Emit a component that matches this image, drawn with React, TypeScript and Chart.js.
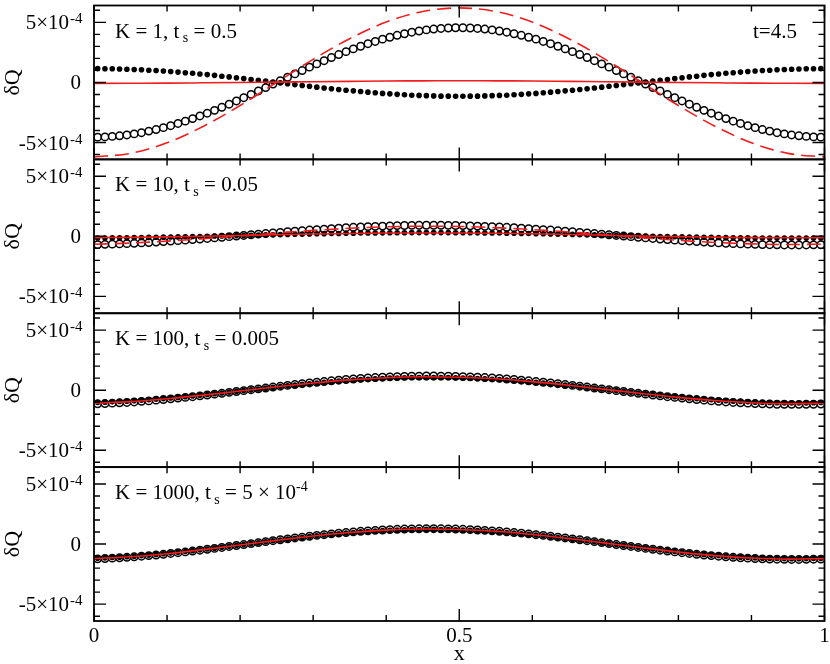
import { useEffect, useRef } from 'react';
import { Chart, registerables } from 'chart.js';

Chart.register(...registerables);

// Cell-centred sample positions of the markers (100 cells on [0,1])
const xCells: number[] = Array.from({ length: 100 }, (_, i) => (i + 0.5) / 100);
// Sample positions of the red reference curves
const xLine = [0, 0.05, 0.1, 0.15, 0.2, 0.25, 0.3, 0.35, 0.4, 0.45, 0.5, 0.55, 0.6, 0.65, 0.7, 0.75, 0.8, 0.85, 0.9, 0.95, 1];

// All values below are in units of 1e-4
// Panel 1: K = 1
const open1 = [
  -4.55, -4.53, -4.49, -4.44, -4.37, -4.28, -4.18, -4.05, -3.92, -3.76, -3.6, -3.41, -3.22, -3.01, -2.79, -2.56, -2.32, -2.07, -1.81, -1.54, -1.27, -0.99, -0.71, -0.43, -0.14,
  0.14, 0.43, 0.71, 0.99, 1.27, 1.54, 1.81, 2.07, 2.32, 2.56, 2.79, 3.01, 3.22, 3.41, 3.6, 3.76, 3.92, 4.05, 4.18, 4.28, 4.37, 4.44, 4.49, 4.53, 4.55,
  4.55, 4.53, 4.49, 4.44, 4.37, 4.28, 4.18, 4.05, 3.92, 3.76, 3.6, 3.41, 3.22, 3.01, 2.79, 2.56, 2.32, 2.07, 1.81, 1.54, 1.27, 0.99, 0.71, 0.43, 0.14,
  -0.14, -0.43, -0.71, -0.99, -1.27, -1.54, -1.81, -2.07, -2.32, -2.56, -2.79, -3.01, -3.22, -3.41, -3.6, -3.76, -3.92, -4.05, -4.18, -4.28, -4.37, -4.44, -4.49, -4.53, -4.55,
];
const filled1 = [
  1.15, 1.14, 1.14, 1.12, 1.1, 1.08, 1.06, 1.02, 0.99, 0.95, 0.91, 0.86, 0.81, 0.76, 0.7, 0.65, 0.59, 0.52, 0.46, 0.39, 0.32, 0.25, 0.18, 0.11, 0.04,
  -0.04, -0.11, -0.18, -0.25, -0.32, -0.39, -0.46, -0.52, -0.59, -0.65, -0.7, -0.76, -0.81, -0.86, -0.91, -0.95, -0.99, -1.02, -1.06, -1.08, -1.1, -1.12, -1.14, -1.14, -1.15,
  -1.15, -1.14, -1.14, -1.12, -1.1, -1.08, -1.06, -1.02, -0.99, -0.95, -0.91, -0.86, -0.81, -0.76, -0.7, -0.65, -0.59, -0.52, -0.46, -0.39, -0.32, -0.25, -0.18, -0.11, -0.04,
  0.04, 0.11, 0.18, 0.25, 0.32, 0.39, 0.46, 0.52, 0.59, 0.65, 0.7, 0.76, 0.81, 0.86, 0.91, 0.95, 0.99, 1.02, 1.06, 1.08, 1.1, 1.12, 1.14, 1.14, 1.15,
];
const dashed1 = [-6.2, -5.9, -5.02, -3.64, -1.92, 0, 1.92, 3.64, 5.02, 5.9, 6.2, 5.9, 5.02, 3.64, 1.92, 0, -1.92, -3.64, -5.02, -5.9, -6.2];
const solid1 = [-0.08, -0.07, -0.06, -0.03, 0, 0.03, 0.06, 0.09, 0.12, 0.13, 0.14, 0.13, 0.12, 0.09, 0.06, 0.03, 0, -0.03, -0.06, -0.07, -0.08];

// Panel 2: K = 10
const open2 = [
  -0.69, -0.67, -0.65, -0.63, -0.61, -0.58, -0.55, -0.52, -0.48, -0.44, -0.4, -0.36, -0.32, -0.27, -0.23, -0.18, -0.13, -0.08, -0.03, 0.02, 0.07,
  0.13, 0.18, 0.23, 0.28, 0.33, 0.38, 0.43, 0.47, 0.52, 0.56, 0.6, 0.64, 0.68, 0.72, 0.75, 0.78, 0.81, 0.83, 0.85, 0.87, 0.89, 0.9, 0.91, 0.92, 0.92,
  0.92, 0.92, 0.91, 0.9, 0.89, 0.87, 0.85, 0.83, 0.81, 0.78, 0.75, 0.72, 0.68, 0.64, 0.6, 0.56, 0.52, 0.47, 0.43, 0.38, 0.33, 0.28, 0.23, 0.18, 0.13,
  0.07, 0.02, -0.03, -0.08, -0.13, -0.18, -0.23, -0.27, -0.32, -0.36, -0.4, -0.44, -0.48, -0.52, -0.55, -0.58, -0.61, -0.63, -0.65, -0.67, -0.69, -0.7, -0.71, -0.72, -0.72,
  -0.72, -0.72, -0.71, -0.7,
];
const filled2 = [
  -0.14, -0.14, -0.13, -0.12, -0.12, -0.11, -0.1, -0.09, -0.08, -0.07, -0.06, -0.05, -0.04, -0.02, -0.01, 0, 0.02, 0.03, 0.04, 0.06, 0.07,
  0.09, 0.1, 0.12, 0.13, 0.14, 0.16, 0.17, 0.18, 0.2, 0.21, 0.22, 0.23, 0.24, 0.25, 0.26, 0.27, 0.28, 0.28, 0.29, 0.3, 0.3, 0.3, 0.31, 0.31, 0.31,
  0.31, 0.31, 0.31, 0.3, 0.3, 0.3, 0.29, 0.28, 0.28, 0.27, 0.26, 0.25, 0.24, 0.23, 0.22, 0.21, 0.2, 0.18, 0.17, 0.16, 0.14, 0.13, 0.12, 0.1, 0.09,
  0.07, 0.06, 0.04, 0.03, 0.02, 0, -0.01, -0.02, -0.04, -0.05, -0.06, -0.07, -0.08, -0.09, -0.1, -0.11, -0.12, -0.12, -0.13, -0.14, -0.14, -0.14, -0.15, -0.15, -0.15,
  -0.15, -0.15, -0.15, -0.14,
];
const dashed2 = [-0.66, -0.56, -0.4, -0.2, 0.03, 0.27, 0.49, 0.67, 0.79, 0.84, 0.82, 0.72, 0.56, 0.36, 0.13, -0.11, -0.33, -0.51, -0.63, -0.68, -0.66];
const solid2 = [-0.11, -0.09, -0.05, 0.01, 0.07, 0.13, 0.19, 0.23, 0.27, 0.28, 0.27, 0.25, 0.21, 0.15, 0.09, 0.03, -0.03, -0.07, -0.11, -0.12, -0.11];

// Panel 3: K = 100
const open3 = [
  -1.13, -1.11, -1.08, -1.05, -1.02, -0.98, -0.93, -0.89, -0.83, -0.78, -0.72, -0.66, -0.6, -0.54, -0.47, -0.4, -0.33, -0.26, -0.18, -0.11, -0.04,
  0.04, 0.11, 0.18, 0.26, 0.33, 0.4, 0.47, 0.54, 0.6, 0.66, 0.72, 0.78, 0.83, 0.89, 0.93, 0.98, 1.02, 1.05, 1.08, 1.11, 1.13, 1.15, 1.17, 1.17, 1.18,
  1.18, 1.17, 1.17, 1.15, 1.13, 1.11, 1.08, 1.05, 1.02, 0.98, 0.93, 0.89, 0.83, 0.78, 0.72, 0.66, 0.6, 0.54, 0.47, 0.4, 0.33, 0.26, 0.18, 0.11, 0.04,
  -0.04, -0.11, -0.18, -0.26, -0.33, -0.4, -0.47, -0.54, -0.6, -0.66, -0.72, -0.78, -0.83, -0.89, -0.93, -0.98, -1.02, -1.05, -1.08, -1.11, -1.13, -1.15, -1.17, -1.17, -1.18,
  -1.18, -1.17, -1.17, -1.15,
];
const filled3 = [
  -1.02, -1.0, -0.97, -0.94, -0.91, -0.88, -0.84, -0.8, -0.75, -0.7, -0.65, -0.6, -0.54, -0.48, -0.42, -0.36, -0.3, -0.23, -0.17, -0.1, -0.03,
  0.03, 0.1, 0.17, 0.23, 0.3, 0.36, 0.42, 0.48, 0.54, 0.6, 0.65, 0.7, 0.75, 0.8, 0.84, 0.88, 0.91, 0.94, 0.97, 1.0, 1.02, 1.03, 1.05, 1.06, 1.06,
  1.06, 1.06, 1.05, 1.03, 1.02, 1.0, 0.97, 0.94, 0.91, 0.88, 0.84, 0.8, 0.75, 0.7, 0.65, 0.6, 0.54, 0.48, 0.42, 0.36, 0.3, 0.23, 0.17, 0.1, 0.03,
  -0.03, -0.1, -0.17, -0.23, -0.3, -0.36, -0.42, -0.48, -0.54, -0.6, -0.65, -0.7, -0.75, -0.8, -0.84, -0.88, -0.91, -0.94, -0.97, -1.0, -1.02, -1.03, -1.05, -1.06, -1.06,
  -1.06, -1.06, -1.05, -1.03,
];
const solid3 = [-1.08, -0.95, -0.71, -0.41, -0.07, 0.28, 0.6, 0.86, 1.04, 1.12, 1.08, 0.95, 0.71, 0.41, 0.07, -0.28, -0.6, -0.86, -1.04, -1.12, -1.08];

// Panel 4: K = 1000
const open4 = [
  -1.23, -1.2, -1.17, -1.14, -1.1, -1.06, -1.01, -0.96, -0.91, -0.85, -0.78, -0.72, -0.65, -0.58, -0.51, -0.43, -0.36, -0.28, -0.2, -0.12, -0.04,
  0.04, 0.12, 0.2, 0.28, 0.36, 0.43, 0.51, 0.58, 0.65, 0.72, 0.78, 0.85, 0.91, 0.96, 1.01, 1.06, 1.1, 1.14, 1.17, 1.2, 1.23, 1.25, 1.26, 1.27, 1.28,
  1.28, 1.27, 1.26, 1.25, 1.23, 1.2, 1.17, 1.14, 1.1, 1.06, 1.01, 0.96, 0.91, 0.85, 0.78, 0.72, 0.65, 0.58, 0.51, 0.43, 0.36, 0.28, 0.2, 0.12, 0.04,
  -0.04, -0.12, -0.2, -0.28, -0.36, -0.43, -0.51, -0.58, -0.65, -0.72, -0.78, -0.85, -0.91, -0.96, -1.01, -1.06, -1.1, -1.14, -1.17, -1.2, -1.23, -1.25, -1.26, -1.27, -1.28,
  -1.28, -1.27, -1.26, -1.25,
];
const filled4 = [
  -1.17, -1.15, -1.12, -1.09, -1.05, -1.01, -0.96, -0.92, -0.86, -0.81, -0.75, -0.69, -0.62, -0.55, -0.48, -0.41, -0.34, -0.27, -0.19, -0.11, -0.04,
  0.04, 0.11, 0.19, 0.27, 0.34, 0.41, 0.48, 0.55, 0.62, 0.69, 0.75, 0.81, 0.86, 0.92, 0.96, 1.01, 1.05, 1.09, 1.12, 1.15, 1.17, 1.19, 1.2, 1.21, 1.22,
  1.22, 1.21, 1.2, 1.19, 1.17, 1.15, 1.12, 1.09, 1.05, 1.01, 0.96, 0.92, 0.86, 0.81, 0.75, 0.69, 0.62, 0.55, 0.48, 0.41, 0.34, 0.27, 0.19, 0.11, 0.04,
  -0.04, -0.11, -0.19, -0.27, -0.34, -0.41, -0.48, -0.55, -0.62, -0.69, -0.75, -0.81, -0.86, -0.92, -0.96, -1.01, -1.05, -1.09, -1.12, -1.15, -1.17, -1.19, -1.2, -1.21, -1.22,
  -1.22, -1.21, -1.2, -1.19,
];
const solid4 = [-1.21, -1.06, -0.8, -0.46, -0.08, 0.31, 0.67, 0.96, 1.16, 1.25, 1.21, 1.06, 0.8, 0.46, 0.08, -0.31, -0.67, -0.96, -1.16, -1.25, -1.21];

// Axis ticks and labels
const yTickVals = [5, 0, -5];
const yTickMain = ['5×10', '0', '-5×10'];
const yTickSup = ['-4', '', '-4'];
const xTickVals = [0, 0.5, 1];
const xTickLabels = ['0', '0.5', '1'];
const yMin = -6.4;
const yMax = 6.4;

// Panel annotations
const panelIds = ['p1', 'p2', 'p3', 'p4'];
const panelK = ['1', '10', '100', '1000'];
const panelTs = ['0.5', '0.05', '0.005', '5 × 10'];
const panelTsSup = ['', '', '', '-4'];
const timeLabel = 't=4.5';

const RED = '#f21c1c';
const FONT = '"Liberation Serif", "Times New Roman", serif';

type Part = { t: string; k: 'n' | 'sub' | 'sup' };

function rich(ctx: CanvasRenderingContext2D, x: number, y: number, parts: Part[], size: number) {
  let cx = x;
  for (const p of parts) {
    const fs = p.k === 'n' ? size : Math.round(size * 0.66);
    const dy = p.k === 'sup' ? -size * 0.38 : p.k === 'sub' ? size * 0.22 : 0;
    ctx.font = `${fs}px ${FONT}`;
    ctx.fillText(p.t, cx, y + dy);
    cx += ctx.measureText(p.t).width;
  }
  return cx;
}

const pts = (xs: number[], ys: number[]) => ys.map((y, i) => ({ x: xs[i], y }));

function openSet(ys: number[], axis: string) {
  return {
    data: pts(xCells, ys), yAxisID: axis, xAxisID: 'x', showLine: false, order: 3,
    pointStyle: 'circle', pointRadius: 3.7, pointBorderWidth: 1.5,
    pointBackgroundColor: '#ffffff', pointBorderColor: '#000000',
  };
}
function filledSet(ys: number[], axis: string) {
  return {
    data: pts(xCells, ys), yAxisID: axis, xAxisID: 'x', showLine: false, order: 2,
    pointStyle: 'circle', pointRadius: 2.8, pointBorderWidth: 0,
    pointBackgroundColor: '#000000', pointBorderColor: '#000000',
  };
}
function lineSet(ys: number[], axis: string, dashed: boolean) {
  return {
    data: pts(xLine, ys), yAxisID: axis, xAxisID: 'x', showLine: true, order: dashed ? 0 : 1,
    borderColor: RED, borderWidth: 1.6, borderDash: dashed ? [14, 7] : [],
    pointRadius: 0, cubicInterpolationMode: 'monotone', fill: false,
  };
}

const framePlugin = {
  id: 'frames',
  afterDatasetsDraw(chart: any) {
    const ctx: CanvasRenderingContext2D = chart.ctx;
    const xs = chart.scales.x;
    const { left, right } = chart.chartArea;
    ctx.save();
    ctx.fillStyle = '#000';
    ctx.strokeStyle = '#000';
    panelIds.forEach((id, p) => {
      const s = chart.scales[id];
      const top = s.top;
      const bottom = s.bottom;
      ctx.lineWidth = 1.8;
      ctx.strokeRect(left, top, right - left, bottom - top);
      ctx.lineWidth = 1.4;
      ctx.beginPath();
      for (let v = -6; v <= 6; v++) {
        const py = s.getPixelForValue(v);
        const len = v % 5 === 0 ? 12 : 6;
        ctx.moveTo(left, py); ctx.lineTo(left + len, py);
        ctx.moveTo(right, py); ctx.lineTo(right - len, py);
      }
      for (let k = 0; k <= 10; k++) {
        const px = xs.getPixelForValue(k / 10);
        const len = k % 5 === 0 ? 12 : 6;
        ctx.moveTo(px, top); ctx.lineTo(px, top + len);
        ctx.moveTo(px, bottom); ctx.lineTo(px, bottom - len);
      }
      ctx.stroke();

      // y tick labels
      ctx.textBaseline = 'alphabetic';
      yTickVals.forEach((v, i) => {
        const py = s.getPixelForValue(v) + 7;
        ctx.font = `21px ${FONT}`;
        if (yTickSup[i]) {
          ctx.textAlign = 'right';
          ctx.fillText(yTickMain[i], 69, py);
          ctx.textAlign = 'left';
          ctx.font = `15px ${FONT}`;
          ctx.fillText(yTickSup[i], 70, py - 6);
        } else {
          ctx.textAlign = 'right';
          ctx.fillText(yTickMain[i], 81, py);
        }
      });

      // y title
      ctx.save();
      ctx.translate(13, s.getPixelForValue(0));
      ctx.rotate(-Math.PI / 2);
      ctx.textAlign = 'center';
      ctx.textBaseline = 'middle';
      ctx.font = `22px ${FONT}`;
      ctx.fillText('δQ', 0, 0);
      ctx.restore();

      // annotation
      ctx.textAlign = 'left';
      ctx.textBaseline = 'alphabetic';
      const parts: Part[] = [
        { t: `K = ${panelK[p]}, t`, k: 'n' },
        { t: ' s', k: 'sub' },
        { t: ` = ${panelTs[p]}`, k: 'n' },
      ];
      if (panelTsSup[p]) parts.push({ t: panelTsSup[p], k: 'sup' });
      rich(ctx, 115, top + 32, parts, 21);
      if (p === 0) {
        ctx.font = `21px ${FONT}`;
        ctx.fillText(timeLabel, 753, top + 32);
      }
    });

    // x tick labels
    const last = chart.scales[panelIds[panelIds.length - 1]];
    ctx.textAlign = 'center';
    ctx.textBaseline = 'alphabetic';
    ctx.font = `21px ${FONT}`;
    xTickVals.forEach((v, i) => {
      ctx.fillText(xTickLabels[i], xs.getPixelForValue(v), last.bottom + 21);
    });
    ctx.font = `22px ${FONT}`;
    ctx.fillText('x', xs.getPixelForValue(0.5), last.bottom + 39);
    ctx.restore();
  },
};

function yScale(weight: number) {
  return {
    type: 'linear', position: 'left', min: yMin, max: yMax, display: false,
    stack: 'panels', stackWeight: 1, weight,
  };
}

export default function App() {
  const ref = useRef<HTMLCanvasElement>(null);
  useEffect(() => {
    document.body.style.margin = '0';
    const canvas = ref.current!;
    const chart = new Chart(canvas, {
      type: 'scatter',
      data: {
        datasets: [
          lineSet(dashed1, 'p1', true), lineSet(solid1, 'p1', false), filledSet(filled1, 'p1'), openSet(open1, 'p1'),
          lineSet(dashed2, 'p2', true), lineSet(solid2, 'p2', false), filledSet(filled2, 'p2'), openSet(open2, 'p2'),
          lineSet(solid3, 'p3', false), filledSet(filled3, 'p3'), openSet(open3, 'p3'),
          lineSet(solid4, 'p4', false), filledSet(filled4, 'p4'), openSet(open4, 'p4'),
        ] as any,
      },
      options: {
        animation: false,
        responsive: false,
        events: [],
        layout: { padding: { left: 94, right: 5, top: 1, bottom: 43 } },
        plugins: { legend: { display: false }, tooltip: { enabled: false } },
        scales: {
          x: { type: 'linear', min: 0, max: 1, display: false },
          p1: yScale(4),
          p2: yScale(3),
          p3: yScale(2),
          p4: yScale(1),
        } as any,
      },
      plugins: [framePlugin],
    });
    return () => chart.destroy();
  }, []);
  return (
    <div style={{ position: 'absolute', left: 0, top: 0, width: 830, height: 664, background: '#fff' }}>
      <canvas ref={ref} width={830} height={664} style={{ display: 'block' }} />
    </div>
  );
}
